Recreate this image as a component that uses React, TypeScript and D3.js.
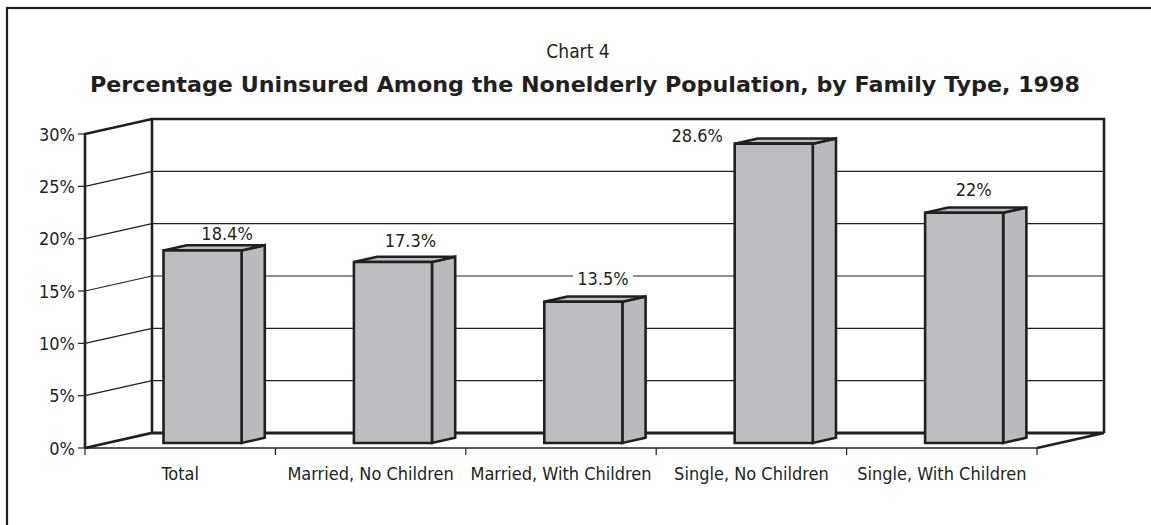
import * as d3 from 'd3'
import React from 'react'

const categories = ['Total', 'Married, No Children', 'Married, With Children', 'Single, No Children', 'Single, With Children']
const values = [18.4, 17.3, 13.5, 28.6, 22]
const valueLabels = ['18.4%', '17.3%', '13.5%', '28.6%', '22%']
const yTicks = [0, 5, 10, 15, 20, 25, 30]

// hand placed label nudges, as in the original artwork
const labelNudge: [number, number][] = [[2, -5], [-5, -10], [-3, -12], [-99, 3], [-13, -12]]

const W = 1151, H = 525
const narrow = "'Liberation Sans Narrow', 'DejaVu Sans Condensed', 'Roboto Condensed', sans-serif"
const ink = '#231f20'

export default function App() {
  const
    left = 85, right = 1037, floor = 448, top = 134,
    depth: [number, number] = [67, -15],
    x = d3.scaleBand<string>().domain(categories).range([left, right]),
    y = d3.scaleLinear().domain([0, 30]).range([floor, top]),
    // point in space: px on front plane, value, depth fraction
    P = (px: number, v: number, f: number): [number, number] => [px + depth[0] * f, y(v) + depth[1] * f],
    line = (pts: [number, number][]) => d3.line()(pts) as string,
    barW = x.bandwidth() * 0.41,
    f1 = 1 / 3, f2 = 0.68

  return (
    <svg width={W} height={H} style={{ position: 'absolute', left: 0, top: 0 }}>
      <rect x={0} y={0} width={W} height={H} fill='#fff' />
      <rect x={7} y={8} width={W + 20} height={H + 20} fill='none' stroke={ink} strokeWidth={2.2} />

      <text x={578} y={58} textAnchor='middle' fontFamily={narrow} fontSize={19} fill={ink}>Chart 4</text>
      <text x={90} y={92} textLength={990} lengthAdjust='spacingAndGlyphs' fontFamily="'DejaVu Sans', sans-serif" fontWeight='bold' fontSize={21} fill={ink}>
        Percentage Uninsured Among the Nonelderly Population, by Family Type, 1998
      </text>

      {/* left wall grid lines */}
      {yTicks.slice(1, -1).map(t => (
        <path key={'lw' + t} d={line([P(left, t, 0), P(left, t, 1)])} stroke={ink} strokeWidth={1.2} fill='none' />
      ))}
      {/* back wall grid lines */}
      {yTicks.slice(1, -1).map(t => (
        <path key={'bw' + t} d={line([P(left, t, 1), P(right, t, 1)])} stroke={ink} strokeWidth={1.2} fill='none' />
      ))}

      {/* walls outline */}
      <path d={line([P(left, 0, 0), P(left, 30, 0), P(left, 30, 1), P(right, 30, 1), P(right, 0, 1)])} stroke={ink} strokeWidth={2.6} fill='none' />
      <path d={line([P(left, 0, 1), P(left, 30, 1)])} stroke={ink} strokeWidth={2.6} fill='none' />
      {/* floor */}
      <path d={line([P(left, 0, 0), P(left, 0, 1), P(right, 0, 1), P(right, 0, 0)])} stroke={ink} strokeWidth={2.8} fill='none' />
      <path d={line([P(left, 0, 0), P(right, 0, 0)])} stroke={ink} strokeWidth={1.6} fill='none' />

      {/* y ticks and labels */}
      {yTicks.map(t => (
        <g key={'yt' + t}>
          <line x1={left - 7} x2={left} y1={y(t)} y2={y(t)} stroke={ink} strokeWidth={1.2} />
          <text x={left - 10} y={y(t) + 6.5} textAnchor='end' fontFamily={narrow} fontSize={18} fill={ink}>{t}%</text>
        </g>
      ))}

      {/* category ticks and labels */}
      {[...categories.map(c => x(c)!), right].map((px, i) => (
        <line key={'xt' + i} x1={px} x2={px} y1={floor} y2={floor + 7} stroke={ink} strokeWidth={1.2} />
      ))}
      {categories.map(c => (
        <text key={'xl' + c} x={x(c)! + x.bandwidth() / 2} y={480} textAnchor='middle' fontFamily={narrow} fontSize={18} fill={ink}>{c}</text>
      ))}

      {/* bars */}
      {categories.map((c, i) => {
        const
          cx = x(c)! + x.bandwidth() / 2,
          x0 = cx - barW / 2, x1 = cx + barW / 2, v = values[i],
          front = [P(x0, 0, f1), P(x0, v, f1), P(x1, v, f1), P(x1, 0, f1)] as [number, number][],
          side = [P(x1, 0, f1), P(x1, v, f1), P(x1, v, f2), P(x1, 0, f2)] as [number, number][],
          topF = [P(x0, v, f1), P(x0, v, f2), P(x1, v, f2), P(x1, v, f1)] as [number, number][],
          [lx, ly] = P(cx, v, 0.67),
          [nx, ny] = labelNudge[i]
        return (
          <g key={'bar' + c} stroke={ink} strokeWidth={2.6} strokeLinejoin='miter'>
            <path d={line(side) + 'Z'} fill='#b9babe' />
            <path d={line(topF) + 'Z'} fill='#bdbec2' />
            <path d={line(front) + 'Z'} fill='#bcbdc1' />
            <rect x={lx + nx - 30} y={ly + ny - 17} width={60} height={19} fill='#fff' stroke='none' opacity={valueLabels[i] === '13.5%' ? 1 : 0} />
            <text x={lx + nx} y={ly + ny} textAnchor='middle' stroke='none' fontFamily={narrow} fontSize={18} fill={ink}>{valueLabels[i]}</text>
          </g>
        )
      })}
    </svg>
  )
}
